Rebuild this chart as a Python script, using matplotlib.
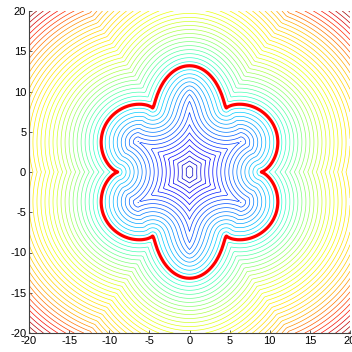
import numpy as np
import matplotlib
matplotlib.use("Agg")
import matplotlib.pyplot as plt

# ---- data: flower-shaped interface ----
petal_angles_deg = [90, 30, -30, -90, -150, 150]
petal_radii = [13.2, 12.0, 12.0, 13.2, 12.0, 12.0]
petal_power = [1.2, 0.7, 0.7, 1.2, 0.7, 0.7]
notch_angles_deg = [0, 60, 120, 180, 240, 300]
notch_radii = [8.9, 9.15, 9.15, 8.9, 9.15, 9.15]

xlim = [-20, 20]
ylim = [-20, 20]
tick_values = [-20, -15, -10, -5, 0, 5, 10, 15, 20]
level_step = 0.5
level_start = -8.5
color_anchor_levels = [-9.0, -4.0, 0.0, 3.0, 6.0, 11.0, 13.5, 16.0]
color_anchor_pos = [0.04, 0.2, 0.37, 0.5, 0.62, 0.7, 0.84, 0.97]


def boundary_radius(theta):
    th = np.degrees(theta)
    out = np.zeros_like(th)
    pa = np.array(petal_angles_deg, float)
    na = np.array(notch_angles_deg, float)
    for i, c in enumerate(pa):
        d = (th - c + 180) % 360 - 180
        m = np.abs(d) <= 30
        side = np.where(d >= 0, c + 30, c - 30) % 360
        rn = np.array([notch_radii[int(np.argmin(np.abs(((na - s + 180) % 360) - 180)))] for s in side[m]])
        f = np.cos(np.radians(3 * d[m])).clip(0, 1) ** petal_power[i]
        out[m] = rn + (petal_radii[i] - rn) * f
    return out


tb = np.linspace(-np.pi, np.pi, 4000, endpoint=False)
rb = boundary_radius(tb)
bx, by = rb * np.cos(tb), rb * np.sin(tb)

x = np.linspace(xlim[0], xlim[1], 201)
y = np.linspace(ylim[0], ylim[1], 201)
X, Y = np.meshgrid(x, y)
D = np.empty_like(X)
for j in range(X.shape[0]):
    dx = X[j][:, None] - bx[None, :]
    dy = Y[j][:, None] - by[None, :]
    D[j] = np.sqrt((dx * dx + dy * dy).min(axis=1))
inside = np.hypot(X, Y) < boundary_radius(np.arctan2(Y, X))
phi = np.where(inside, -D, D)

levels = np.arange(level_start, phi.max(), level_step)
cmap = plt.get_cmap('jet')
line_colors = [cmap(np.interp(v, color_anchor_levels, color_anchor_pos)) for v in levels]

plt.rcParams['axes.unicode_minus'] = False
fig = plt.figure(figsize=(3.52, 3.52), dpi=100)
ax = fig.add_axes([29 / 352, 19 / 352, 321 / 352, 322 / 352])
ax.contour(X, Y, phi, levels=levels, colors=line_colors, linewidths=0.5)
ax.contour(X, Y, phi, levels=[0], colors='red', linewidths=2.3)
ax.set_xlim(xlim)
ax.set_ylim(ylim)
ax.set_xticks(tick_values)
ax.set_yticks(tick_values)
for s in ['top', 'right']:
    ax.spines[s].set_visible(False)
for s in ['left', 'bottom']:
    ax.spines[s].set_color('#404040')
    ax.spines[s].set_linewidth(0.8)
ax.tick_params(direction='in', length=2.5, width=0.6, color='#404040',
               labelsize=8, pad=2)
for lab in ax.get_xticklabels() + ax.get_yticklabels():
    lab.set_family('Liberation Sans')
fig.savefig('out.png', dpi=100)
